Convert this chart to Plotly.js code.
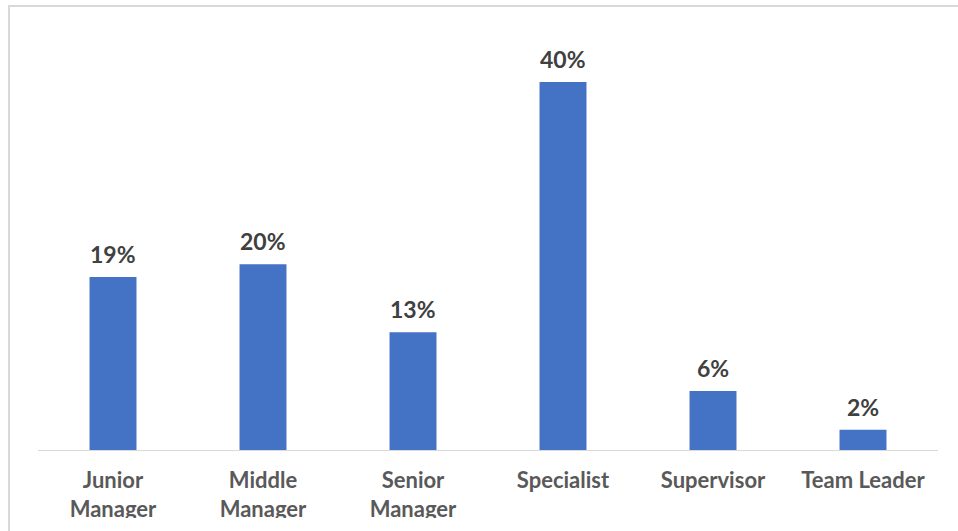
<!DOCTYPE html>
<html>
<head>
<meta charset="utf-8">
<script src="https://cdn.plot.ly/plotly-3.0.1.min.js"></script>
<style>
  html, body { margin: 0; padding: 0; background: #fff; }
  #wrap { position: relative; width: 958px; height: 531px; overflow: hidden; }
  #chart { position: absolute; left: 0; top: 0; width: 958px; height: 531px; }
  #clip { position: absolute; left: 11px; top: 518px; width: 947px; height: 13px; background: #fff; }
  #frame { position: absolute; left: 8px; top: 5px; width: 960px; height: 540px;
           border-left: 2px solid #d9d9d9; border-top: 2px solid #d9d9d9; pointer-events: none; }
</style>
</head>
<body>
<div id="wrap">
  <div id="chart"></div>
  <div id="clip"></div>
  <div id="frame"></div>
</div>
<script>
const categories = ["Junior<br>Manager", "Middle<br>Manager", "Senior<br>Manager", "Specialist", "Supervisor", "Team Leader"];
const shares = [18.8, 20.2, 12.8, 40.0, 6.4, 2.2];
const labels = ["19%", "20%", "13%", "40%", "6%", "2%"];

const FONT = "Lato, 'Open Sans', sans-serif";

const trace = {
  type: "bar",
  x: categories,
  y: shares,
  marker: { color: "#4472C4" },
  hoverinfo: "skip"
};

const annotations = categories.map((c, i) => ({
  x: c, y: shares[i], xref: "x", yref: "y",
  text: "<b>" + labels[i] + "</b>",
  showarrow: false, yanchor: "bottom", yshift: 7,
  font: { family: FONT, size: 23, color: "#404040" }
}));

const layout = {
  width: 958, height: 531,
  margin: { l: 38, r: 20, t: 36, b: 81 },
  paper_bgcolor: "#ffffff", plot_bgcolor: "#ffffff",
  bargap: 0.687,
  showlegend: false,
  xaxis: {
    type: "category",
    showline: true, linecolor: "#d9d9d9", linewidth: 1,
    showgrid: false, ticks: "", zeroline: false,
    tickfont: { family: FONT, size: 22, color: "#595959", weight: "bold" },
    ticklabelstandoff: 11
  },
  yaxis: {
    range: [0, 45], visible: false, showgrid: false, zeroline: false
  },
  annotations: annotations
};

Plotly.newPlot("chart", [trace], layout, { staticPlot: true, displayModeBar: false });
</script>
</body>
</html>
